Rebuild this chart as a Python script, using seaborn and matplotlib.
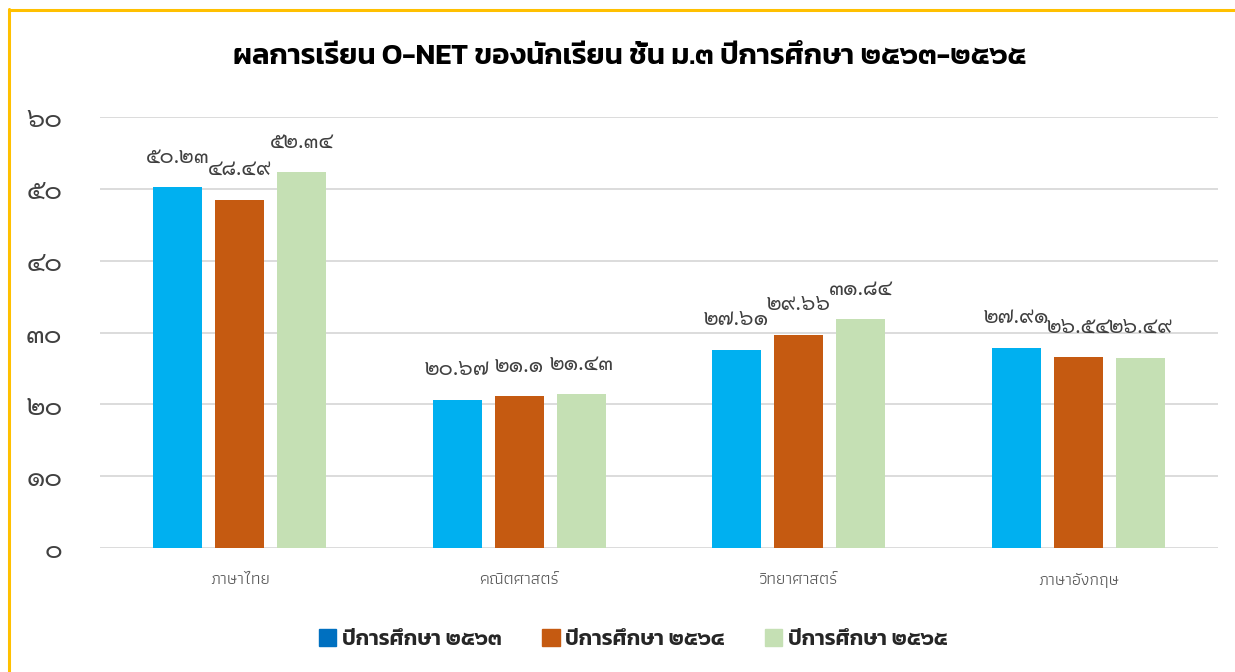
import matplotlib
matplotlib.use("Agg")
import matplotlib.pyplot as plt
import matplotlib.patches as mpatches
from matplotlib.lines import Line2D
import seaborn as sns
import pandas as pd

# ---- data ----
subjects = ["ภาษาไทย", "คณิตศาสตร์", "วิทยาศาสตร์", "ภาษาอังกฤษ"]
years = ["ปีการศึกษา ๒๕๖๓", "ปีการศึกษา ๒๕๖๔", "ปีการศึกษา ๒๕๖๕"]
scores_2563 = [50.23, 20.67, 27.61, 27.91]
scores_2564 = [48.49, 21.10, 29.66, 26.54]
scores_2565 = [52.34, 21.43, 31.84, 26.49]
y_ticks = [0, 10, 20, 30, 40, 50, 60]
title = "ผลการเรียน O-NET ของนักเรียน ชั้น ม.๓ ปีการศึกษา ๒๕๖๓-๒๕๖๕"

bar_colors = ["#00B0F0", "#C55A11", "#C5E0B4"]
legend_colors = ["#0070C0", "#C55A11", "#C5E0B4"]

THAI_DIGITS = str.maketrans("0123456789", "๐๑๒๓๔๕๖๗๘๙")


def thai_num(v):
    return f"{v:g}".translate(THAI_DIGITS)


rows = []
for yr, vals in zip(years, [scores_2563, scores_2564, scores_2565]):
    for s, v in zip(subjects, vals):
        rows.append({"subject": s, "year": yr, "score": v})
df = pd.DataFrame(rows)

sns.set_theme(style="white")
LOOPED = ["Sarabun", "Noto Sans Thai Looped", "Noto Sans Thai", "DejaVu Sans"]
LOOPLESS = ["Kanit", "Noto Sans Thai", "DejaVu Sans"]
COND = ["Athiti", "Kanit", "Noto Sans Thai", "DejaVu Sans"]
plt.rcParams["font.family"] = LOOPED

fig = plt.figure(figsize=(12.35, 6.72), dpi=100)
ax = fig.add_axes([100 / 1235, 1 - 548 / 672, 1118 / 1235, 431 / 672])

sns.barplot(data=df, x="subject", y="score", hue="year", palette=bar_colors,
            width=0.667, gap=0.21, ax=ax, legend=False, saturation=1,
            edgecolor="none")

for cont in ax.containers:
    ax.bar_label(cont, labels=[thai_num(b.get_height()) for b in cont],
                 padding=14, fontsize=15.5, color="#404040", family=LOOPED)

ax.set_ylim(0, 60)
ax.set_xlim(-0.5, 3.5)
ax.set_yticks(y_ticks)
ax.set_yticklabels([thai_num(t) for t in y_ticks], family=LOOPED,
                   fontsize=19.5, color="#404040")
ax.set_xticks(range(len(subjects)))
ax.set_xticklabels(subjects, family=COND, fontweight=400, fontsize=12.5,
                   color="#595959")
ax.tick_params(axis="x", length=0, pad=18)
ax.tick_params(axis="y", length=0, pad=27)
ax.set_xlabel("")
ax.set_ylabel("")
ax.grid(axis="y", color="#D9D9D9", linewidth=1.3)
ax.set_axisbelow(True)
for sp in ax.spines.values():
    sp.set_visible(False)

fig.text(629 / 1235, 1 - 57 / 672, title, ha="center", va="center",
         family=LOOPLESS, fontweight=600, fontsize=21, color="#000000")

handles = [mpatches.Patch(color=c, label=l) for c, l in zip(legend_colors, years)]
fig.legend(handles=handles, loc="center", bbox_to_anchor=(633 / 1235, 1 - 639 / 672),
           ncol=3, frameon=False, handlelength=0.8, handleheight=0.8,
           handletextpad=0.25, columnspacing=1.9,
           prop={"family": LOOPLESS, "weight": 600, "size": 15.5})

# yellow frame lines (left and top)
fig.add_artist(Line2D([9 / 1235, 9 / 1235], [0, 1 - 9 / 672], color="#FFC000",
                      linewidth=2.2, transform=fig.transFigure))
fig.add_artist(Line2D([9 / 1235, 1], [1 - 9.5 / 672, 1 - 9.5 / 672], color="#FFC000",
                      linewidth=2.2, transform=fig.transFigure))

fig.savefig("out.png", dpi=100, facecolor="white")
